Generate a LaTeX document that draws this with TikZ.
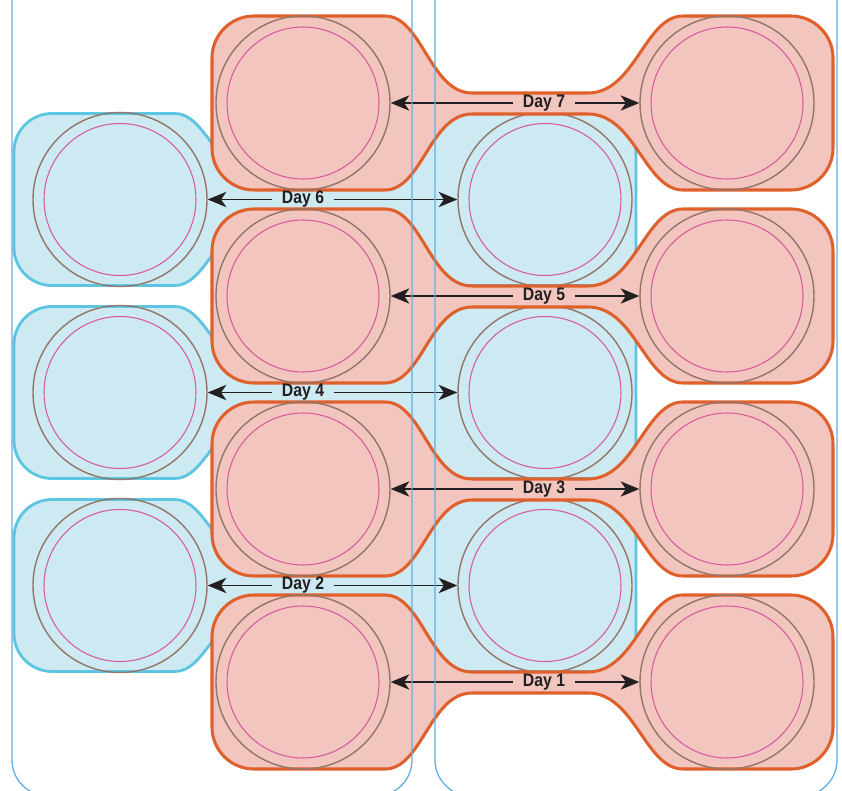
\documentclass[tikz,border=0pt]{standalone}
\usepackage{fontspec}
\newfontfamily\dayfont{Liberation Sans}[FakeStretch=0.87]
\usetikzlibrary{arrows.meta}
\definecolor{stripred}{HTML}{F2C6BF}
\definecolor{edgered}{HTML}{E0602B}
\definecolor{stripblue}{HTML}{CDE9F1}
\definecolor{edgeblue}{HTML}{5CC6E2}
\definecolor{ringbrown}{HTML}{937669}
\definecolor{ringpink}{HTML}{D65A9C}
\definecolor{panelblue}{HTML}{62AEE4}
\definecolor{arrowtext}{HTML}{231F20}

\begin{document}
\begin{tikzpicture}[x=0.03cm, y=0.03cm,
    redstrip/.style={fill=stripred, draw=edgered, line width=2.6pt},
    bluestrip/.style={fill=stripblue, draw=edgeblue, line width=2.4pt},
    wellnode/.style={shape=circle, minimum size=5.22cm, inner sep=0pt, draw=ringbrown, line width=1.2pt},
    ring/.style={draw=ringpink, line width=0.9pt},
    daylabel/.style={inner xsep=8pt, inner ysep=2pt, text=arrowtext, font={\fontsize{15.5}{18}\selectfont\dayfont\bfseries}},
    dayarrow/.style={draw=arrowtext, line width=1.2pt, -{Stealth[length=5.6mm, width=4.6mm, inset=1.6mm]}},
    panel/.style={draw=panelblue, line width=1.1pt}
]
\useasboundingbox (0,0) rectangle (842,-791);

% Blue strips (days 6, 4, 2)
\foreach \c in {-199.5,-392.5,-585.5} {
  \draw[bluestrip, shift={(0,\c)}] (14,0) -- (14,48) arc[start angle=180, end angle=90, radius=38] -- (175,86)
    .. controls (205,86) and (215,30) .. (250,30) -- (380,30)
    .. controls (410,30) and (420,86) .. (445,86) -- (598,86) arc[start angle=90, end angle=0, radius=38]
    -- (636,-48) arc[start angle=0, end angle=-90, radius=38] -- (445,-86)
    .. controls (420,-86) and (410,-30) .. (380,-30) -- (250,-30)
    .. controls (215,-30) and (205,-86) .. (175,-86) -- (52,-86) arc[start angle=270, end angle=180, radius=38] -- cycle;
}

\node[wellnode] (well_6l) at (120,-199.5) {};
\node[wellnode] (well_6r) at (545,-199.5) {};
\node[wellnode] (well_4l) at (120,-392.5) {};
\node[wellnode] (well_4r) at (545,-392.5) {};
\node[wellnode] (well_2l) at (120,-585.5) {};
\node[wellnode] (well_2r) at (545,-585.5) {};
\foreach \w in {well_6l,well_6r,well_4l,well_4r,well_2l,well_2r}
  \draw[ring] (\w.center) circle[radius=76];

% Red strips (days 7, 5, 3, 1)
\foreach \c in {-103,-296,-489,-682} {
  \draw[redstrip, shift={(0,\c)}] (212,0) -- (212,45) arc[start angle=180, end angle=90, radius=42] -- (385,87)
    .. controls (422,87) and (430,10) .. (472,10) -- (588,10)
    .. controls (635,10) and (645,87) .. (683,87) -- (791,87) arc[start angle=90, end angle=0, radius=42]
    -- (833,-45) arc[start angle=0, end angle=-90, radius=42] -- (683,-87)
    .. controls (645,-87) and (635,-11) .. (588,-11) -- (472,-11)
    .. controls (430,-11) and (422,-87) .. (385,-87) -- (254,-87) arc[start angle=270, end angle=180, radius=42] -- cycle;
}

\node[wellnode] (well_7l) at (303,-103) {};
\node[wellnode] (well_7r) at (727,-103) {};
\node[wellnode] (well_5l) at (303,-296) {};
\node[wellnode] (well_5r) at (727,-296) {};
\node[wellnode] (well_3l) at (303,-489) {};
\node[wellnode] (well_3r) at (727,-489) {};
\node[wellnode] (well_1l) at (303,-682) {};
\node[wellnode] (well_1r) at (727,-682) {};
\foreach \w in {well_7l,well_7r,well_5l,well_5r,well_3l,well_3r,well_1l,well_1r}
  \draw[ring] (\w.center) circle[radius=76];

% Labels
\node[daylabel] (day_7) at (544,-103) {Day 7};
\node[daylabel] (day_6) at (303,-199.5) {Day 6};
\node[daylabel] (day_5) at (544,-296) {Day 5};
\node[daylabel] (day_4) at (303,-392.5) {Day 4};
\node[daylabel] (day_3) at (544,-489) {Day 3};
\node[daylabel] (day_2) at (303,-585.5) {Day 2};
\node[daylabel] (day_1) at (544,-682) {Day 1};

% Arrows
\draw[dayarrow] (day_7.west) -- (well_7l.east);
\draw[dayarrow] (day_7.east) -- (well_7r.west);
\draw[dayarrow] (day_6.west) -- (well_6l.east);
\draw[dayarrow] (day_6.east) -- (well_6r.west);
\draw[dayarrow] (day_5.west) -- (well_5l.east);
\draw[dayarrow] (day_5.east) -- (well_5r.west);
\draw[dayarrow] (day_4.west) -- (well_4l.east);
\draw[dayarrow] (day_4.east) -- (well_4r.west);
\draw[dayarrow] (day_3.west) -- (well_3l.east);
\draw[dayarrow] (day_3.east) -- (well_3r.west);
\draw[dayarrow] (day_2.west) -- (well_2l.east);
\draw[dayarrow] (day_2.east) -- (well_2r.west);
\draw[dayarrow] (day_1.west) -- (well_1l.east);
\draw[dayarrow] (day_1.east) -- (well_1r.west);

% Panels
\draw[panel] (12,5) -- (12,-760) arc[start angle=180, end angle=270, radius=36] -- (376,-796) arc[start angle=270, end angle=360, radius=36] -- (412,5);
\draw[panel] (435,5) -- (435,-760) arc[start angle=180, end angle=270, radius=36] -- (801,-796) arc[start angle=270, end angle=360, radius=36] -- (837,5);

\end{tikzpicture}
\end{document}
